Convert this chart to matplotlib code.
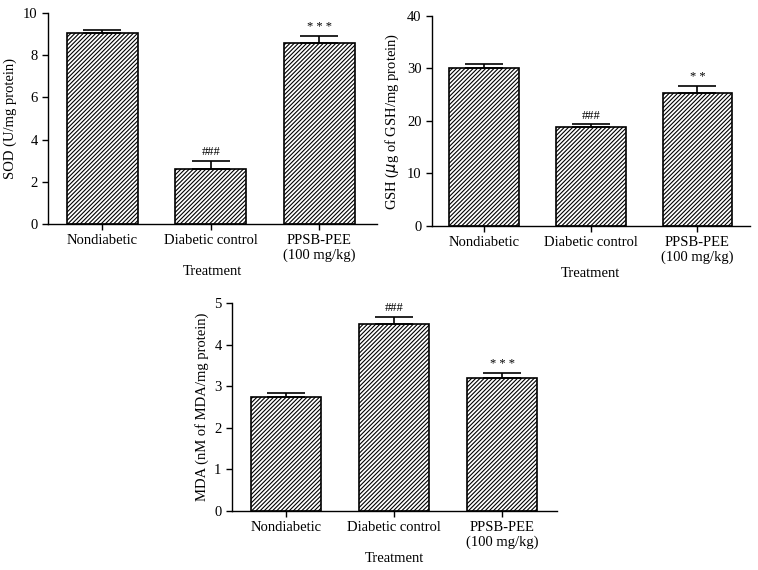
import numpy as np
import matplotlib
matplotlib.use("Agg")
import matplotlib.pyplot as plt

plt.rcParams['font.family'] = ['Liberation Serif', 'DejaVu Serif']
plt.rcParams['hatch.linewidth'] = 0.8

groups = ['Nondiabetic', 'Diabetic control', 'PPSB-PEE\n(100 mg/kg)']

sod = [9.05, 2.6, 8.6]
sod_err = [0.15, 0.4, 0.32]
sod_marks = ['', '###', '* * *']

gsh = [30.0, 18.8, 25.4]
gsh_err = [0.8, 0.6, 1.3]
gsh_marks = ['', '###', '* *']

mda = [2.75, 4.5, 3.2]
mda_err = [0.08, 0.17, 0.13]
mda_marks = ['', '###', '* * *']


def panel(ax, vals, errs, marks, ylim, yticks, ylabel, xlim):
    x = np.arange(len(vals))
    ax.bar(x, vals, width=0.655, color='white', edgecolor='black',
           hatch='////////', linewidth=1.2, zorder=2)
    ax.errorbar(x, vals, yerr=[np.zeros(len(vals)), errs], fmt='none',
                ecolor='black', elinewidth=1.2, capsize=14, capthick=1.2, zorder=3)
    step = ylim[1] * 0.012
    for xi, v, e, m in zip(x, vals, errs, marks):
        if m:
            ax.text(xi, v + e + step, m, ha='center', va='bottom', fontsize=9)
    ax.set_xlim(*xlim)
    ax.set_ylim(*ylim)
    ax.set_yticks(yticks)
    ax.set_xticks(x)
    ax.set_xticklabels(groups, fontsize=10.5, linespacing=1.1)
    ax.tick_params(axis='y', labelsize=10.5, length=4, width=1)
    ax.tick_params(axis='x', length=4, width=1)
    ax.set_ylabel(ylabel, fontsize=10.5)
    ax.set_xlabel('Treatment', fontsize=10.5, labelpad=2)
    ax.spines['top'].set_visible(False)
    ax.spines['right'].set_visible(False)
    ax.spines['left'].set_linewidth(1)
    ax.spines['bottom'].set_linewidth(1)


fig = plt.figure(figsize=(7.58, 5.70), dpi=100)
ax1 = fig.add_axes([0.0633, 0.607, 0.434, 0.370])
ax2 = fig.add_axes([0.570, 0.6035, 0.419, 0.3685])
ax3 = fig.add_axes([0.306, 0.1035, 0.429, 0.3645])

panel(ax1, sod, sod_err, sod_marks, (0, 10), [0, 2, 4, 6, 8, 10],
      'SOD (U/mg protein)', (-0.5, 2.53))
panel(ax2, gsh, gsh_err, gsh_marks, (0, 40), [0, 10, 20, 30, 40],
      'GSH ($\\mu$g of GSH/mg protein)', (-0.49, 2.49))
panel(ax3, mda, mda_err, mda_marks, (0, 5), [0, 1, 2, 3, 4, 5],
      'MDA (nM of MDA/mg protein)', (-0.5, 2.51))

fig.savefig('out.png', dpi=100)
